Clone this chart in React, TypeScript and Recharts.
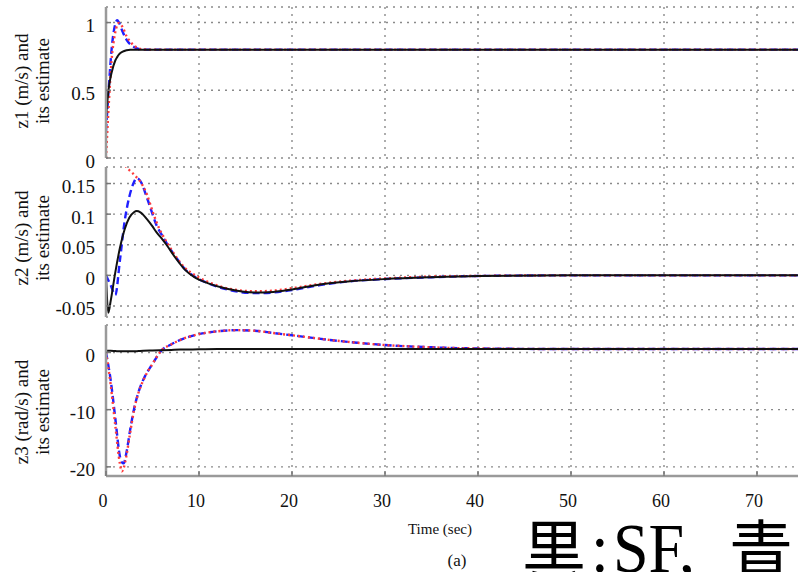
import React from "react";
import { LineChart, Line, XAxis, YAxis, CartesianGrid } from "recharts";

// time axis shared by all three panels (sec)
const timeTicks = [0, 10, 20, 30, 40, 50, 60, 70];

// z1 (m/s): SF (black), estimates (blue dashed, red dotted)
const timeZ1 = [0, 0.3, 0.6, 1, 1.2, 1.4, 1.8, 2.2, 2.6, 3, 3.5, 4, 5, 10, 20, 40, 80];
const sfZ1 = [0.3, 0.52, 0.63, 0.72, 0.745, 0.765, 0.785, 0.795, 0.8, 0.8, 0.8, 0.8, 0.8, 0.8, 0.8, 0.8, 0.8];
const blueZ1 = [0.2, 0.52, 0.8, 0.99, 1.017, 1.0, 0.93, 0.875, 0.84, 0.82, 0.805, 0.8, 0.8, 0.8, 0.8, 0.8, 0.8];
const redZ1 = [0, 0.4, 0.72, 0.93, 0.98, 0.997, 0.965, 0.9, 0.86, 0.83, 0.81, 0.802, 0.8, 0.8, 0.8, 0.8, 0.8];
const z1Ticks = [0, 0.5, 1];

// z2 (m/s)
const timeZ2 = [0, 0.25, 0.5, 1, 1.5, 2, 2.5, 3, 3.3, 3.7, 4.4, 5, 5.4, 6, 6.5, 7.5, 8.5, 9.5, 11, 13, 16, 18, 20, 23, 26, 30, 35, 40, 50, 60, 80];
const sfZ2 = [0, -0.061, -0.042, 0.005, 0.045, 0.075, 0.094, 0.103, 0.105, 0.103, 0.092, 0.08, 0.071, 0.06, 0.05, 0.028, 0.009, -0.003, -0.013, -0.022, -0.028, -0.027, -0.023, -0.015, -0.01, -0.006, -0.003, -0.001, 0, 0, 0];
const blueZ2 = [0, -0.008, -0.016, -0.032, 0.025, 0.088, 0.128, 0.152, 0.159, 0.154, 0.127, 0.1, 0.083, 0.066, 0.053, 0.03, 0.01, -0.002, -0.013, -0.023, -0.029, -0.028, -0.024, -0.016, -0.01, -0.006, -0.003, -0.001, 0, 0, 0];
const redZ2 = [0.24, 0.25, 0.26, 0.24, 0.21, 0.182, 0.172, 0.165, 0.16, 0.153, 0.132, 0.105, 0.088, 0.068, 0.055, 0.031, 0.012, 0.001, -0.011, -0.021, -0.026, -0.025, -0.021, -0.014, -0.009, -0.005, -0.002, -0.001, 0, 0, 0];
const z2Ticks = [-0.05, 0, 0.05, 0.1, 0.15];

// z3 (rad/s)
const timeZ3 = [0, 0.5, 1, 1.5, 1.7, 1.9, 2.2, 2.6, 3, 3.5, 4, 5, 6, 7, 8, 10, 12, 14, 16, 18, 20, 22, 24, 27, 30, 35, 40, 50, 60, 80];
const sfZ3 = [0.3, 0.3, 0.25, 0.2, 0.2, 0.2, 0.2, 0.2, 0.2, 0.25, 0.3, 0.35, 0.4, 0.45, 0.5, 0.55, 0.6, 0.6, 0.6, 0.6, 0.6, 0.6, 0.6, 0.6, 0.6, 0.6, 0.6, 0.6, 0.6, 0.6];
const blueZ3 = [0, -4.8, -11.5, -18.2, -19.2, -19.4, -17.5, -13.5, -10, -6.9, -4.8, -2.0, 0.4, 1.4, 2.2, 3.2, 3.7, 3.9, 3.8, 3.4, 3.0, 2.6, 2.2, 1.7, 1.3, 0.9, 0.7, 0.6, 0.6, 0.6];
const redZ3 = [0, -5.6, -12.8, -19.5, -20.8, -20.2, -18, -14, -10.2, -7, -4.9, -2.0, 0.4, 1.4, 2.2, 3.2, 3.7, 3.9, 3.8, 3.4, 3.0, 2.6, 2.2, 1.7, 1.3, 0.9, 0.7, 0.6, 0.6, 0.6];
const z3Ticks = [-20, -10, 0];

const rows = (t: number[], sf: number[], blue: number[], red: number[]) =>
  t.map((time, i) => ({ time, sf: sf[i], blue: blue[i], red: red[i] }));

const SERIF = "Liberation Serif, DejaVu Serif, serif";
const CJK = "Noto Sans CJK JP, sans-serif";
const FRAME = "#9a9a9a";
const TICK = "#777";

const bottomTick = (p: any, showLabel: boolean) => (
  <g>
    <line x1={p.x} x2={p.x} y1={p.y} y2={p.y - 5} stroke={TICK} strokeWidth={1.5} />
    {showLabel && (
      <text x={p.x - 3} y={p.y + 25} textAnchor="middle" dominantBaseline="central" style={{ fontFamily: SERIF, fontSize: 18 }} fill="#111">
        {p.payload.value}
      </text>
    )}
  </g>
);

const topTick = (p: any) => (
  <line x1={p.x} x2={p.x} y1={p.y} y2={p.y + 5} stroke={TICK} strokeWidth={1.5} />
);

const leftTick = (p: any) => (
  <g>
    <line x1={p.x} x2={p.x + 5} y1={p.y} y2={p.y} stroke={TICK} strokeWidth={1.5} />
    <text x={p.x - 11} y={p.y + 3} textAnchor="end" dominantBaseline="central" style={{ fontFamily: SERIF, fontSize: 19 }} fill="#111">
      {p.payload.value}
    </text>
  </g>
);

interface PanelProps {
  top: number;
  plotH: number;
  data: Array<{ time: number; sf: number; blue: number; red: number }>;
  domain: [number, number];
  ticks: number[];
  label: [string, string];
  labelY: number;
  showTime?: boolean;
}

function Panel({ top, plotH, data, domain, ticks, label, labelY, showTime = false }: PanelProps) {
  const pad = 6;
  // extra room below so the lowest tick label is not clipped by the svg
  const bottomPad = showTime ? 0 : 16;
  const bottomH = showTime ? 60 : 0;
  const height = pad + plotH + bottomH + bottomPad;
  return (
    <>
      <div style={{ position: "absolute", left: 0, top: top - pad }}>
        <LineChart
          width={860}
          height={height}
          data={data}
          margin={{ top: pad, right: 10, left: 0, bottom: bottomPad }}
        >
          <CartesianGrid xAxisId="bottom" stroke="#8a8a8a" strokeDasharray="2 5" strokeWidth={1.4} />
          <XAxis
            xAxisId="bottom"
            type="number"
            dataKey="time"
            domain={[0, 80]}
            ticks={timeTicks}
            interval={0}
            allowDataOverflow
            height={bottomH}
            tickSize={0}
            tickMargin={0}
            tickLine={false}
            axisLine={{ stroke: FRAME, strokeWidth: 2.5 }}
            tick={(p: any) => bottomTick(p, showTime)}
          />
          <XAxis
            xAxisId="top"
            orientation="top"
            type="number"
            dataKey="time"
            domain={[0, 80]}
            ticks={timeTicks}
            interval={0}
            allowDataOverflow
            height={0}
            tickSize={0}
            tickMargin={0}
            tickLine={false}
            axisLine={{ stroke: FRAME, strokeWidth: 2.5 }}
            tick={topTick}
          />
          <YAxis
            type="number"
            domain={domain}
            ticks={ticks}
            interval={0}
            allowDataOverflow
            width={106}
            tickSize={0}
            tickMargin={0}
            tickLine={false}
            axisLine={{ stroke: FRAME, strokeWidth: 2.5 }}
            tick={leftTick}
          />
          <Line xAxisId="bottom" type="monotone" dataKey="blue" stroke="#1f1fff" strokeWidth={2.4} strokeDasharray="7 4" dot={false} isAnimationActive={false} />
          <Line xAxisId="bottom" type="monotone" dataKey="red" stroke="#ff3a3a" strokeWidth={2.4} strokeDasharray="2 3" dot={false} isAnimationActive={false} />
          <Line xAxisId="bottom" type="monotone" dataKey="sf" stroke="#111" strokeWidth={2} dot={false} isAnimationActive={false} />
        </LineChart>
      </div>
      <div
        style={{
          position: "absolute",
          left: 32,
          top: labelY,
          transform: "translate(-50%, -50%) rotate(-90deg)",
          whiteSpace: "nowrap",
          textAlign: "center",
          fontFamily: SERIF,
          fontSize: 19,
          lineHeight: "21px",
          color: "#111",
        }}
      >
        {label[0]}
        <br />
        {label[1]}
      </div>
    </>
  );
}

export default function App() {
  return (
    <div
      style={{
        position: "fixed",
        left: 0,
        top: 0,
        width: 798,
        height: 572,
        overflow: "hidden",
        background: "#fff",
        fontFamily: SERIF,
      }}
    >
      <Panel top={7} plotH={151} data={rows(timeZ1, sfZ1, blueZ1, redZ1)} domain={[0, 1.115]} ticks={z1Ticks} label={["z1 (m/s) and", "its estimate"]} labelY={81} />
      <Panel top={167} plotH={150} data={rows(timeZ2, sfZ2, blueZ2, redZ2)} domain={[-0.068, 0.177]} ticks={z2Ticks} label={["z2 (m/s) and", "its estimate"]} labelY={238} />
      <Panel top={325} plotH={151} data={rows(timeZ3, sfZ3, blueZ3, redZ3)} domain={[-21.6, 4.8]} ticks={z3Ticks} label={["z3 (rad/s) and", "its estimate"]} labelY={412} showTime />
      <div style={{ position: "absolute", left: 440, top: 529, transform: "translate(-50%, -50%)", fontFamily: SERIF, fontSize: 15, whiteSpace: "nowrap", color: "#111" }}>
        Time (sec)
      </div>
      <div style={{ position: "absolute", left: 457, top: 561, transform: "translate(-50%, -50%)", fontFamily: SERIF, fontSize: 17, whiteSpace: "nowrap", color: "#111" }}>
        (a)
      </div>
      {/* large caption, cropped at the bottom edge */}
      <div style={{ position: "absolute", left: 0, top: 516, width: 798, height: 56, overflow: "hidden" }}>
        <div style={{ position: "absolute", left: 0, top: 5, width: 798, height: 60, transform: "scaleY(1.1)", transformOrigin: "top", lineHeight: "50px", fontSize: 64, color: "#000" }}>
          <span style={{ position: "absolute", left: 522, fontFamily: CJK }}>黒</span>
          <span style={{ position: "absolute", left: 591, fontFamily: SERIF }}>:</span>
          <span style={{ position: "absolute", left: 613, fontFamily: SERIF }}>SF,</span>
          <span style={{ position: "absolute", left: 729, fontFamily: CJK }}>青</span>
        </div>
      </div>
    </div>
  );
}
